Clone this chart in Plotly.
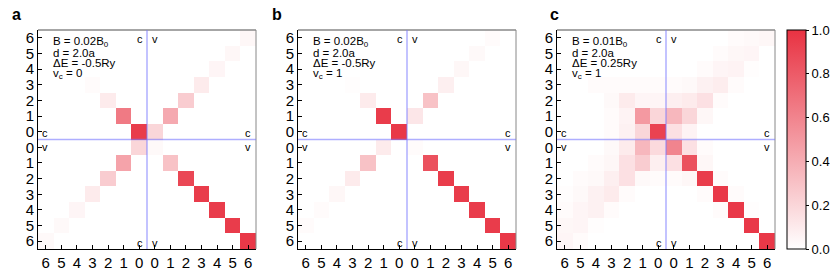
import plotly.graph_objects as go

tick_labels = ["6", "5", "4", "3", "2", "1", "0", "0", "1", "2", "3", "4", "5", "6"]
cbar_ticks = [0.0, 0.2, 0.4, 0.6, 0.8, 1.0]
panel_letters = ["a", "b", "c"]
panel_texts = [
    ["B = 0.02B<sub>0</sub>", "d = 2.0a", "ΔE = -0.5Ry", "v<sub>c</sub> = 0"],
    ["B = 0.02B<sub>0</sub>", "d = 2.0a", "ΔE = -0.5Ry", "v<sub>c</sub> = 1"],
    ["B = 0.01B<sub>0</sub>", "d = 2.0a", "ΔE = 0.25Ry", "v<sub>c</sub> = 1"],
]

# rows top->bottom: c6..c0, v0..v6 ; cols left->right: c6..c0, v0..v6
panel_a = [
    [0, 0, 0, 0, 0, 0, 0, 0, 0, 0, 0, 0, 0, 0.04],
    [0, 0, 0, 0, 0, 0, 0, 0, 0, 0, 0, 0, 0.04, 0],
    [0, 0, 0, 0, 0, 0, 0, 0, 0, 0, 0, 0.05, 0, 0],
    [0, 0, 0, 0.02, 0, 0, 0, 0, 0, 0, 0.10, 0, 0, 0],
    [0, 0, 0, 0, 0.10, 0, 0, 0, 0, 0.25, 0, 0, 0, 0],
    [0, 0, 0, 0, 0, 0.65, 0, 0, 0.42, 0, 0, 0, 0, 0],
    [0, 0, 0, 0, 0, 0, 0.95, 0.20, 0, 0, 0, 0, 0, 0],
    [0, 0, 0, 0, 0, 0, 0.20, 0.03, 0, 0, 0, 0, 0, 0],
    [0, 0, 0, 0, 0, 0.45, 0, 0, 0.30, 0, 0, 0, 0, 0],
    [0, 0, 0, 0, 0.25, 0, 0, 0, 0, 0.90, 0, 0, 0, 0],
    [0, 0, 0, 0.10, 0, 0, 0, 0, 0, 0, 0.95, 0, 0, 0],
    [0, 0, 0.05, 0, 0, 0, 0, 0, 0, 0, 0, 0.95, 0, 0],
    [0, 0.03, 0, 0, 0, 0, 0, 0, 0, 0, 0, 0, 0.95, 0],
    [0.03, 0, 0, 0, 0, 0, 0, 0, 0, 0, 0, 0, 0, 0.97],
]

panel_b = [
    [0, 0, 0, 0, 0, 0, 0, 0, 0, 0, 0, 0, 0.02, 0],
    [0, 0, 0, 0, 0, 0, 0, 0, 0, 0, 0, 0.03, 0, 0],
    [0, 0, 0, 0, 0, 0, 0, 0, 0, 0, 0.04, 0, 0, 0],
    [0, 0, 0, 0.01, 0, 0, 0, 0, 0, 0.08, 0, 0, 0, 0],
    [0, 0, 0, 0, 0.10, 0, 0, 0, 0.30, 0, 0, 0, 0, 0],
    [0, 0, 0, 0, 0, 0.95, 0, 0.12, 0, 0, 0, 0, 0, 0],
    [0, 0, 0, 0, 0, 0, 0.97, 0, 0, 0, 0, 0, 0, 0],
    [0, 0, 0, 0, 0, 0.10, 0, 0.02, 0, 0, 0, 0, 0, 0],
    [0, 0, 0, 0, 0.30, 0, 0, 0, 0.85, 0, 0, 0, 0, 0],
    [0, 0, 0, 0.10, 0, 0, 0, 0, 0, 0.95, 0, 0, 0, 0],
    [0, 0, 0.04, 0, 0, 0, 0, 0, 0, 0, 0.95, 0, 0, 0],
    [0, 0.02, 0, 0, 0, 0, 0, 0, 0, 0, 0, 0.95, 0, 0],
    [0.02, 0, 0, 0, 0, 0, 0, 0, 0, 0, 0, 0, 0.95, 0],
    [0, 0, 0, 0, 0, 0, 0, 0, 0, 0, 0, 0, 0, 0.97],
]

panel_c = [
    [0, 0, 0, 0, 0, 0, 0, 0, 0, 0, 0, 0.02, 0.03, 0.04],
    [0, 0, 0, 0, 0, 0, 0, 0, 0, 0, 0.02, 0.04, 0.05, 0],
    [0, 0, 0, 0, 0, 0, 0, 0, 0, 0.02, 0.05, 0.06, 0.01, 0],
    [0, 0, 0.02, 0.02, 0.02, 0.02, 0.02, 0.02, 0.03, 0.07, 0.09, 0.02, 0, 0],
    [0, 0, 0, 0.03, 0.10, 0.05, 0.05, 0.08, 0.10, 0.15, 0.02, 0, 0, 0],
    [0, 0, 0, 0.02, 0.06, 0.50, 0.20, 0.35, 0.20, 0.04, 0, 0, 0, 0],
    [0, 0, 0, 0.02, 0.07, 0.20, 0.92, 0.15, 0.06, 0, 0, 0, 0, 0],
    [0, 0, 0, 0.03, 0.10, 0.35, 0.18, 0.60, 0.15, 0.02, 0, 0, 0, 0],
    [0, 0, 0.02, 0.04, 0.15, 0.25, 0.08, 0.15, 0.85, 0.04, 0, 0, 0, 0],
    [0, 0.02, 0.03, 0.08, 0.15, 0.03, 0.02, 0.02, 0.04, 0.95, 0.02, 0, 0, 0],
    [0.01, 0.03, 0.07, 0.10, 0.02, 0, 0, 0, 0, 0.02, 0.97, 0.02, 0, 0],
    [0.02, 0.05, 0.07, 0.02, 0, 0, 0, 0, 0, 0, 0.02, 0.97, 0.01, 0],
    [0.04, 0.05, 0.01, 0, 0, 0, 0, 0, 0, 0, 0, 0, 0.97, 0],
    [0.05, 0.02, 0, 0, 0, 0, 0, 0, 0, 0, 0, 0, 0, 0.97],
]

panels = [panel_a, panel_b, panel_c]

W, H = 830, 277
x_doms = [(38, 256), (298, 516), (557, 775)]
top_px, bot_px = 30, 249
RED = "rgb(232,50,66)"
FONT = "Liberation Sans, Arial, sans-serif"

fig = go.Figure()
annotations = []
shapes = []
idx = list(range(14))

for i, z in enumerate(panels):
    xa = "x" if i == 0 else f"x{i+1}"
    ya = "y" if i == 0 else f"y{i+1}"
    fig.add_trace(go.Heatmap(
        z=z, x=idx, y=idx, xaxis=xa, yaxis=ya,
        zmin=0, zmax=1,
        colorscale=[[0, "white"], [1, RED]],
        showscale=(i == 2),
        colorbar=dict(
            x=787 / W, xanchor="left", thickness=19, thicknessmode="pixels",
            len=(bot_px - top_px) / H, lenmode="fraction",
            y=1 - (top_px + bot_px) / 2 / H, yanchor="middle",
            outlinewidth=1, outlinecolor="black",
            xpad=0, ypad=0,
            tickvals=cbar_ticks, ticktext=[f"{v:.1f}" for v in cbar_ticks],
            ticks="outside", ticklen=3, tickcolor="black",
            tickfont=dict(family=FONT, size=13, color="black"),
        ),
        hoverinfo="skip",
    ))
    x0, x1 = x_doms[i]
    axx = dict(
        domain=[x0 / W, x1 / W], range=[-0.5, 13.5],
        tickvals=idx, ticktext=tick_labels, ticks="inside", ticklen=4,
        tickcolor="black", showline=True, linecolor="black", linewidth=1,
        showgrid=False, zeroline=False, anchor=ya,
        tickfont=dict(family=FONT, size=15, color="black"),
        fixedrange=True, automargin=False,
    )
    axy = dict(
        domain=[1 - bot_px / H, 1 - top_px / H], range=[13.5, -0.5],
        tickvals=idx, ticktext=tick_labels, ticks="inside", ticklen=4,
        tickcolor="black", showline=True, linecolor="black", linewidth=1,
        showgrid=False, zeroline=False, anchor=xa,
        tickfont=dict(family=FONT, size=15, color="black"),
        fixedrange=True, automargin=False,
    )
    key = "" if i == 0 else str(i + 1)
    fig.update_layout(**{f"xaxis{key}": axx, f"yaxis{key}": axy})

    xd = f"{xa} domain"
    yd = f"{ya} domain"
    # top & right frame (gray)
    shapes.append(dict(type="line", xref=xd, yref=yd, x0=0, x1=1, y0=1, y1=1,
                       line=dict(color="#888888", width=1.5)))
    shapes.append(dict(type="line", xref=xd, yref=yd, x0=1, x1=1, y0=0, y1=1,
                       line=dict(color="#888888", width=1)))
    # blue separators
    shapes.append(dict(type="line", xref=xa, yref=yd, x0=6.5, x1=6.5, y0=0, y1=1,
                       line=dict(color="rgba(120,120,255,0.6)", width=1.5)))
    shapes.append(dict(type="line", xref=xd, yref=ya, x0=0, x1=1, y0=6.5, y1=6.5,
                       line=dict(color="rgba(120,120,255,0.6)", width=1.5)))

    small = dict(family=FONT, size=11, color="black")
    lbls = [
        ("c", 6.05, 0.05), ("v", 7.0, 0.05),
        ("c", 6.05, 13.1), ("v", 7.0, 13.1),
        ("c", -0.05, 6.1), ("v", -0.05, 6.95),
        ("c", 13.0, 6.1), ("v", 13.0, 6.95),
    ]
    for txt, lx, ly in lbls:
        annotations.append(dict(text=txt, x=lx, y=ly, xref=xa, yref=ya,
                                showarrow=False, font=small,
                                xanchor="center", yanchor="middle"))
    # info text
    for j, line in enumerate(panel_texts[i]):
        annotations.append(dict(
            text=line, xref="paper", yref="paper",
            x=(x0 + 13) / W, y=1 - (42 + j * 10.6) / H,
            xanchor="left", yanchor="middle", showarrow=False,
            font=dict(family=FONT, size=11.5, color="black")))
    # panel letter
    lx_px = [10, 270, 548][i]
    annotations.append(dict(
        text=f"<b>{panel_letters[i]}</b>", xref="paper", yref="paper",
        x=lx_px / W, y=1 - 14 / H, xanchor="left", yanchor="middle",
        showarrow=False, font=dict(family=FONT, size=16, color="black")))

fig.update_layout(
    width=W, height=H, margin=dict(l=0, r=0, t=0, b=0, autoexpand=False),
    paper_bgcolor="white", plot_bgcolor="white",
    annotations=annotations, shapes=shapes, showlegend=False,
)

fig.write_html("out.html", config={"displayModeBar": False},
               post_script="document.body.style.margin='0px';document.body.style.padding='0px';")
